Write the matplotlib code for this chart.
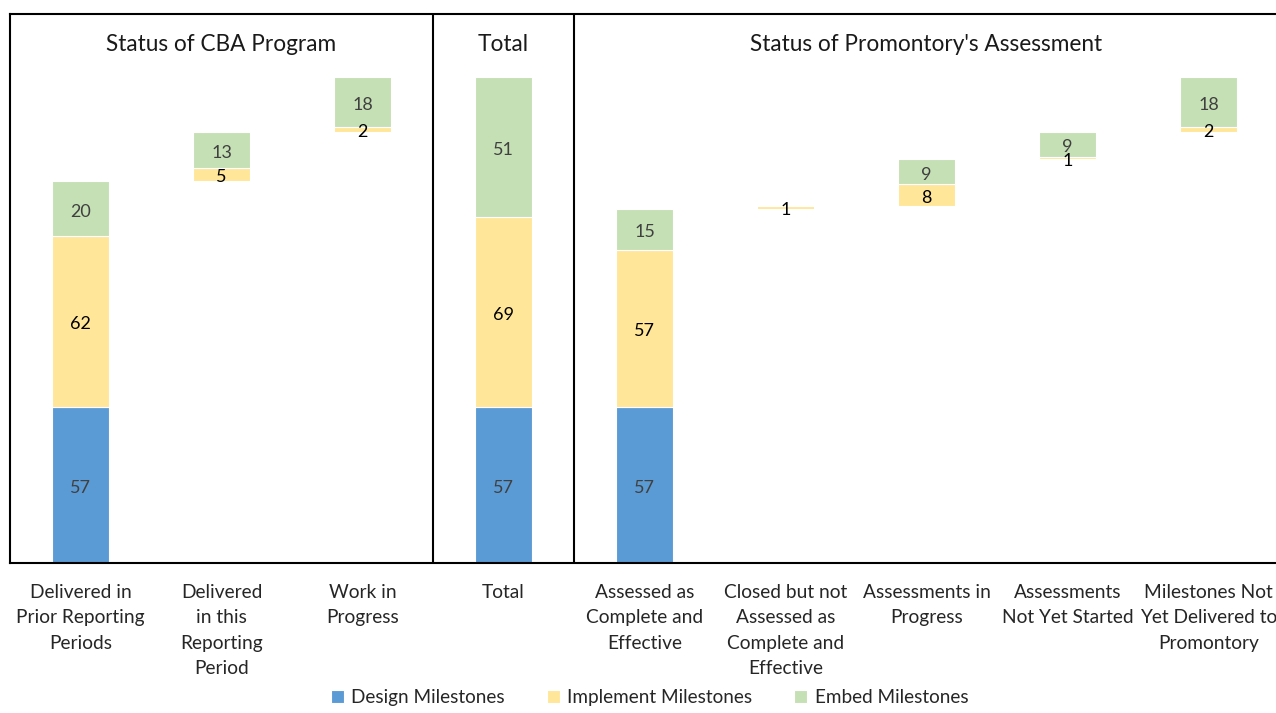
import matplotlib
matplotlib.use('Agg')
import matplotlib.pyplot as plt
import numpy as np

categories = [
    'Delivered in\nPrior Reporting\nPeriods',
    'Delivered\nin this\nReporting\nPeriod',
    'Work in\nProgress',
    'Total',
    'Assessed as\nComplete and\nEffective',
    'Closed but not\nAssessed as\nComplete and\nEffective',
    'Assessments in\nProgress',
    'Assessments\nNot Yet Started',
    'Milestones Not\nYet Delivered to\nPromontory',
]
# invisible offset under each floating bar
base = [0, 139, 157, 0, 0, 129, 130, 147, 157]
design = [57, 0, 0, 57, 57, 0, 0, 0, 0]
implement = [62, 5, 2, 69, 57, 1, 8, 1, 2]
embed = [20, 13, 18, 51, 15, 0, 9, 9, 18]

section_titles = ['Status of CBA Program', 'Total', "Status of Promontory's Assessment"]

colors = {'Design Milestones': '#5B9BD5',
          'Implement Milestones': '#FFE699',
          'Embed Milestones': '#C5E0B4'}
label_colors = ['#404040', '#000000', '#404040']

plt.rcParams['font.family'] = ['Lato', 'DejaVu Sans']

fig = plt.figure(figsize=(12.76, 7.13), dpi=100)
ax = fig.add_axes([10 / 1276, 150 / 713, 1269 / 1276, 549 / 713])

x = np.arange(len(categories))
width = 0.4
bottom = np.array(base, dtype=float)
series = [design, implement, embed]
for (name, color), vals, lc in zip(colors.items(), series, label_colors):
    vals = np.array(vals, dtype=float)
    ax.bar(x, vals, width, bottom=bottom, color=color, edgecolor='white',
           linewidth=0.8, label=name)
    for xi, b, v in zip(x, bottom, vals):
        if v > 0:
            ax.text(xi, b + v / 2 - 1, f'{int(v)}', ha='center', va='center',
                    fontsize=13, color=lc)
    bottom = bottom + vals

ax.set_xlim(-0.5, len(categories) - 0.5)
ax.set_ylim(0, 200)
ax.set_yticks([])
ax.set_xticks(x)
ax.set_xticklabels(categories, fontsize=13.8, color='#262626')
for t in ax.get_xticklabels():
    t.set_linespacing(1.6)
ax.tick_params(axis='x', length=0, pad=15)

for s in ax.spines.values():
    s.set_linewidth(1.5)
    s.set_color('black')
ax.axvline(2.5, color='black', linewidth=1.5)
ax.axvline(3.5, color='black', linewidth=1.5)

for xpos, title in zip([1, 3, 6.0], section_titles):
    ax.text(xpos, 189, title, ha='center', va='center', fontsize=16.3, color='#1a1a1a')

fig.legend(loc='center', bbox_to_anchor=(0.509, 0.022), ncol=3, frameon=False,
           fontsize=13.6, handlelength=0.7, handleheight=0.7, columnspacing=2.2,
           handletextpad=0.4, labelcolor='#262626')

fig.savefig('out.png', dpi=100)
